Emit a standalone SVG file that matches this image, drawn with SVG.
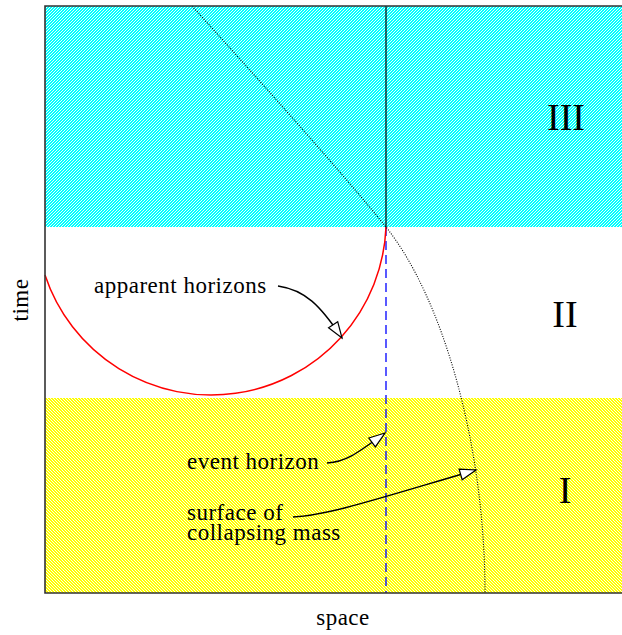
<svg xmlns="http://www.w3.org/2000/svg" width="622" height="635" viewBox="0 0 622 635">
<style>
  text { font-family: "Liberation Serif", "Times New Roman", serif; fill: #000; }
  .lbl { font-size: 23px; letter-spacing: 0.5px; }
  .roman { font-size: 38px; text-anchor: middle; }
  .arrow { fill: none; stroke: #000; stroke-width: 1.4; marker-end: url(#open); }
</style>
<defs>
  <pattern id="hatchC" patternUnits="userSpaceOnUse" width="3" height="3">
    <rect width="3" height="3" fill="#00ffff"/>
    <path d="M0,3 L3,0 M-1,1 L1,-1 M2,4 L4,2" stroke="#ffffff" stroke-width="0.9"/>
  </pattern>
  <pattern id="hatchY" patternUnits="userSpaceOnUse" width="3" height="3">
    <rect width="3" height="3" fill="#ffff00"/>
    <path d="M0,0 L3,3 M-1,2 L1,4 M2,-1 L4,1" stroke="#ffffff" stroke-width="0.9"/>
  </pattern>
  <marker id="open" markerUnits="userSpaceOnUse" viewBox="-18 -8 20 16" refX="0" refY="0" markerWidth="20" markerHeight="16" orient="auto">
    <path d="M-16,-5.5 L0,0 L-16,5.5 Z" fill="#fff" stroke="#000" stroke-width="1.2" stroke-linejoin="miter"/>
  </marker>
</defs>

<g id="background">
  <rect x="45" y="6" width="600" height="587" fill="#fff"/>
</g>
<g id="region-III">
  <rect x="45" y="6" width="600" height="221" fill="url(#hatchC)"/>
  <text class="roman" x="566" y="130">III</text>
</g>
<g id="region-II">
  <text class="roman" x="565" y="327">II</text>
</g>
<g id="region-I">
  <rect x="45" y="398" width="600" height="195" fill="url(#hatchY)"/>
  <text class="roman" x="565" y="503">I</text>
</g>

<g id="curves">
  <line id="singularity-line" x1="386" y1="6" x2="386" y2="227" stroke="#000" stroke-width="1.2"/>
  <line id="event-horizon-line" x1="386" y1="227" x2="386" y2="593" stroke="#0000ff" stroke-width="1.3" stroke-dasharray="9,5"/>
  <path id="apparent-horizon-arc" d="M45,275 A175,175 0 0 0 386,227" fill="none" stroke="#ff0000" stroke-width="1.5"/>
  <path id="mass-surface" d="M192,6 C250,70 340,170 386,227 C442,297 485,443 485,593" fill="none" stroke="#000" stroke-width="1.1" stroke-dasharray="1,1.5"/>
</g>

<g id="frame">
  <path d="M640,6 L45,6 L45,593 L640,593" fill="none" stroke="#333" stroke-width="1.6"/>
</g>

<g id="label-apparent-horizons">
  <text class="lbl" x="94" y="293">apparent horizons</text>
</g>
<g id="label-event-horizon">
  <text class="lbl" x="187" y="469">event horizon</text>
</g>
<g id="label-surface">
  <text class="lbl" x="187" y="520">surface of</text>
  <text class="lbl" x="187" y="540">collapsing mass</text>
</g>

<g id="connectors">
  <path class="arrow" d="M278,286 C305,290 320,305 342,338"/>
  <path class="arrow" d="M327,463 C345,462 355,455 385,433"/>
  <path class="arrow" d="M293,517 C330,515 380,498 476,470"/>
</g>

<g id="axes">
  <text class="lbl" x="343" y="625" text-anchor="middle">space</text>
  <text class="lbl" transform="translate(28,300) rotate(-90)" x="0" y="0" text-anchor="middle">time</text>
</g>
</svg>
